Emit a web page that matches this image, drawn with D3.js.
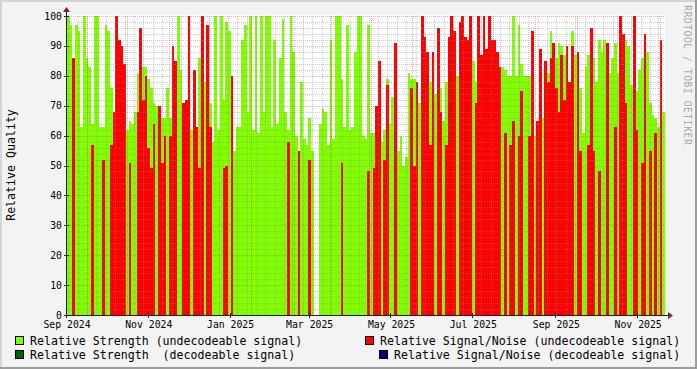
<!DOCTYPE html>
<html>
<head>
<meta charset="utf-8">
<script src="https://cdn.jsdelivr.net/npm/d3@7"></script>
<style>
  html, body { margin: 0; padding: 0; background: #f3f3f3; }
  svg { display: block; font-family: "DejaVu Sans Mono", monospace; }
</style>
</head>
<body>
<svg id="chart" width="697" height="369"></svg>
<script>
// rrd style quality graph, one bar per 2 days
const WIDTH = 697;
const HEIGHT = 369;
const PLOT = { left: 67, right: 665, top: 16, bottom: 315 };
const START = new Date(2024, 8, 1);
const STEP_DAYS = 2;

// Relative Strength (undecodeable signal), null = no sample
const strength = [
  100, 97, 64, 97, 95, 63, 100, 86, 83, 64,
  100, 100, 63, 63, 97, 95, 76, 64, 64, null,
  null, null, 62, 65, 64, 68, 81, 83, 83, 83,
  79, 76, 71, 70, 70, 66, 66, 76, 66, 62,
  78, 100, 82, 62, 60, 80, 62, 64, 60, 86,
  null, 78, null, 71, 58, 100, 62, 100, 72, 98,
  95, 78, 55, 63, 63, 92, 97, 68, 100, 62,
  100, 61, 100, 68, 100, 100, 63, 92, 64, 86,
  99, 68, 62, 100, 88, 60, 49, 78, 59, 57,
  66, 55, null, null, 64, 69, 68, 57, 92, 59,
  100, 100, 79, 63, 97, 62, 63, 88, 100, 100,
  60, 59, 97, 61, 61, 61, 59, 58, 62, 79,
  64, 73, 52, 55, 60, 50, 53, 81, 79, 79,
  75, 71, null, 60, 70, 78, 68, 74, 75, 76,
  65, 78, null, null, null, 80, null, null, null, null,
  98, 85, 78, null, null, 80, null, 100, null, 70,
  87, 83, 83, 82, 80, 80, 100, 80, 97, 84,
  80, 80, 80, 70, 60, 60, 78, 66, 66, 81,
  95, null, 86, 91, 90, 87, 67, 54, 95, 87,
  85, 76, 61, 83, 87, 86, 86, 78, 92, 88,
  92, 89, 81, 86, 91, 81, 85, 86, 92, 90,
  77, 100, 75, 82, 86, 90, 88, 71, 67, 66,
  63, 69, 68
];

// Relative Signal/Noise (undecodeable signal)
const snr = [
  null, null, 86, null, null, null, null, null, null, 57,
  null, null, null, 52, null, null, 57, 68, 100, 92,
  90, 84, null, 51, null, null, 68, 96, 72, 80,
  56, 49, 64, null, 70, 51, 60, null, 60, 90,
  85, null, null, 71, 72, 100, null, 82, 63, 49,
  100, null, 97, 63, null, null, null, null, 49, 50,
  null, 80, null, null, null, null, null, null, null, null,
  null, null, null, null, null, null, null, null, null, null,
  null, null, 58, null, null, null, 55, null, null, null,
  52, null, null, null, null, null, null, null, null, null,
  null, null, 51, null, null, null, null, null, null, null,
  null, null, 48, null, 49, 70, 85, null, 52, 77,
  null, null, 91, null, null, null, null, null, 76, 50,
  78, null, 100, 93, 88, 57, 88, null, 96, 68,
  null, 57, 93, 100, 95, null, 98, 100, 93, 92,
  100, null, 71, 100, 87, 100, 89, 100, 92, 92,
  88, 83, null, 61, null, 57, 65, null, 60, 75,
  null, null, 60, 95, null, 65, 89, null, 85, 78,
  86, 91, 76, 68, 87, 72, 90, 78, 90, null,
  88, 55, null, null, 57, 96, 55, null, 48, null,
  null, 91, null, null, 63, null, 100, 94, 71, null,
  null, 100, 62, null, 51, 94, null, 55, null, 61,
  null, 92, null
];

// decodeable series: no samples visible in this period
const strengthDecoded = [];
const snrDecoded = [];

const yTicks = [0, 10, 20, 30, 40, 50, 60, 70, 80, 90, 100];
const xLabelDates = ["2024-09-01", "2024-11-01", "2025-01-01", "2025-03-01",
                     "2025-05-01", "2025-07-01", "2025-09-01", "2025-11-01"];

const legendItems = [
  { label: "Relative Strength (undecodeable signal)", color: "#80ff00", box: 15, text: 30, y: 336 },
  { label: "Relative Strength  (decodeable signal)", color: "#006400", box: 15, text: 30, y: 350 },
  { label: "Relative Signal/Noise (undecodeable signal)", color: "#ff0000", box: 365, text: 380, y: 336 },
  { label: "Relative Signal/Noise (decodeable signal)", color: "#000080", box: 379, text: 394, y: 350 }
];

const svg = d3.select("#chart");
const dayAt = i => d3.timeDay.offset(START, i * STEP_DAYS);
const parseDay = d3.timeParse("%Y-%m-%d");

const xScale = d3.scaleTime()
  .domain([START, dayAt(strength.length)])
  .range([PLOT.left, PLOT.right]);
const yScale = d3.scaleLinear()
  .domain([0, 100])
  .range([PLOT.bottom, PLOT.top]);

// frame
svg.append("rect").attr("width", WIDTH).attr("height", HEIGHT).attr("fill", "#f3f3f3");
svg.append("rect").attr("x", 0).attr("y", 0).attr("width", WIDTH).attr("height", 2).attr("fill", "#d4d4d4");
svg.append("rect").attr("x", 0).attr("y", 0).attr("width", 2).attr("height", HEIGHT).attr("fill", "#d4d4d4");
svg.append("rect").attr("x", 0).attr("y", HEIGHT - 2).attr("width", WIDTH).attr("height", 2).attr("fill", "#9c9c9c");
svg.append("rect").attr("x", WIDTH - 2).attr("y", 0).attr("width", 2).attr("height", HEIGHT).attr("fill", "#9c9c9c");

svg.append("rect")
  .attr("x", PLOT.left).attr("y", PLOT.top - 1)
  .attr("width", PLOT.right - PLOT.left).attr("height", PLOT.bottom - PLOT.top + 1)
  .attr("fill", "#ffffff");

let g = svg.append("g");

function drawSeries (values, color) {
  const data = values.map((v, i) => ({ i: i, v: v })).filter(d => d.v != null);
  g.selectAll(null)
    .data(data)
    .enter().append("rect")
    .attr("x", d => Math.round(xScale(dayAt(d.i))))
    .attr("width", d => Math.round(xScale(dayAt(d.i + 1))) - Math.round(xScale(dayAt(d.i))))
    .attr("y", d => Math.round(yScale(d.v)))
    .attr("height", d => PLOT.bottom - Math.round(yScale(d.v)))
    .attr("fill", color)
    .attr("shape-rendering", "crispEdges");
}

drawSeries(strength, "#80ff00");
drawSeries(strengthDecoded, "#006400");
drawSeries(snr, "#ff0000");
drawSeries(snrDecoded, "#000080");

// grid on top of the bars, like rrdtool does
const grid = svg.append("g").attr("shape-rendering", "crispEdges");
const minorVals = d3.range(2, 100, 2).filter(v => v % 10 !== 0);
grid.selectAll(".hminor").data(minorVals).enter().append("line")
  .attr("x1", PLOT.left).attr("x2", PLOT.right)
  .attr("y1", d => Math.round(yScale(d)) + 0.5).attr("y2", d => Math.round(yScale(d)) + 0.5)
  .attr("stroke", "rgba(140,140,140,0.45)").attr("stroke-dasharray", "1,1");

const weeks = d3.timeMonday.range(START, xScale.domain()[1]);
grid.selectAll(".vminor").data(weeks).enter().append("line")
  .attr("x1", d => Math.round(xScale(d)) + 0.5).attr("x2", d => Math.round(xScale(d)) + 0.5)
  .attr("y1", PLOT.top).attr("y2", PLOT.bottom)
  .attr("stroke", "rgba(140,140,140,0.45)").attr("stroke-dasharray", "1,1");

grid.selectAll(".hmajor").data(yTicks.slice(1)).enter().append("line")
  .attr("x1", PLOT.left).attr("x2", PLOT.right)
  .attr("y1", d => Math.round(yScale(d)) + 0.5).attr("y2", d => Math.round(yScale(d)) + 0.5)
  .attr("stroke", "rgba(200,50,50,0.38)").attr("stroke-dasharray", "1,1");

const monthLines = d3.timeMonth.range(START, xScale.domain()[1]).map(d => d3.timeDay.offset(d, 15));
grid.selectAll(".vmajor").data(monthLines).enter().append("line")
  .attr("x1", d => Math.round(xScale(d)) + 0.5).attr("x2", d => Math.round(xScale(d)) + 0.5)
  .attr("y1", PLOT.top).attr("y2", PLOT.bottom)
  .attr("stroke", "rgba(200,50,50,0.38)").attr("stroke-dasharray", "1,1");

// axes
const axisColor = "#1e1e3c";
const arrowColor = "#7f2424";
svg.append("line")
  .attr("x1", PLOT.left - 3).attr("x2", PLOT.right + 4)
  .attr("y1", PLOT.bottom + 0.5).attr("y2", PLOT.bottom + 0.5)
  .attr("stroke", axisColor).attr("shape-rendering", "crispEdges");
svg.append("line")
  .attr("x1", PLOT.left - 0.5).attr("x2", PLOT.left - 0.5)
  .attr("y1", PLOT.bottom + 3).attr("y2", PLOT.top - 4)
  .attr("stroke", axisColor).attr("shape-rendering", "crispEdges");
svg.append("path")
  .attr("d", `M${PLOT.right + 3},${PLOT.bottom - 3} L${PLOT.right + 8},${PLOT.bottom + 0.5} L${PLOT.right + 3},${PLOT.bottom + 4} Z`)
  .attr("fill", arrowColor);
svg.append("path")
  .attr("d", `M${PLOT.left - 4},${PLOT.top - 4} L${PLOT.left - 0.5},${PLOT.top - 9} L${PLOT.left + 3},${PLOT.top - 4} Z`)
  .attr("fill", arrowColor);

// y labels
svg.selectAll(".ylab").data(yTicks).enter().append("text")
  .attr("x", PLOT.left - 5)
  .attr("y", d => yScale(d) + 3.5)
  .attr("text-anchor", "end")
  .attr("font-size", "9.8px")
  .attr("fill", "#000")
  .text(d => d);

svg.selectAll(".ytick").data(yTicks).enter().append("line")
  .attr("x1", PLOT.left - 3).attr("x2", PLOT.left + 2)
  .attr("y1", d => Math.round(yScale(d)) + 0.5).attr("y2", d => Math.round(yScale(d)) + 0.5)
  .attr("stroke", axisColor).attr("shape-rendering", "crispEdges");

// x labels
const fmt = d3.timeFormat("%b %Y");
const labelDates = xLabelDates.map(parseDay);
svg.selectAll(".xlab").data(labelDates).enter().append("text")
  .attr("x", d => xScale(d))
  .attr("y", PLOT.bottom + 13)
  .attr("text-anchor", "middle")
  .attr("font-size", "9.8px")
  .attr("fill", "#000")
  .text(d => fmt(d));

svg.selectAll(".xtick").data(labelDates).enter().append("line")
  .attr("x1", d => Math.round(xScale(d)) - 0.5).attr("x2", d => Math.round(xScale(d)) - 0.5)
  .attr("y1", PLOT.bottom - 2).attr("y2", PLOT.bottom + 3)
  .attr("stroke", axisColor).attr("shape-rendering", "crispEdges");

// titles
svg.append("text")
  .attr("transform", "translate(15,165) rotate(-90)")
  .attr("text-anchor", "middle")
  .attr("font-size", "11.6px")
  .attr("fill", "#000")
  .text("Relative Quality");

svg.append("text")
  .attr("transform", "translate(684,5) rotate(90)")
  .attr("text-anchor", "start")
  .attr("font-size", "9.6px")
  .attr("letter-spacing", "0.6px")
  .attr("fill", "#a8a8a8")
  .text("RRDTOOL / TOBI OETIKER");

// legend
const leg = svg.selectAll(".legend").data(legendItems).enter().append("g");
leg.append("rect")
  .attr("x", d => d.box + 0.5).attr("y", d => d.y + 0.5)
  .attr("width", 8).attr("height", 8)
  .attr("fill", d => d.color)
  .attr("stroke", "#000")
  .attr("shape-rendering", "crispEdges");
leg.append("text")
  .attr("x", d => d.text)
  .attr("y", d => d.y + 8.5)
  .attr("font-size", "11.6px")
  .attr("fill", "#000")
  .attr("xml:space", "preserve")
  .style("white-space", "pre")
  .text(d => d.label);
</script>
</body>
</html>
